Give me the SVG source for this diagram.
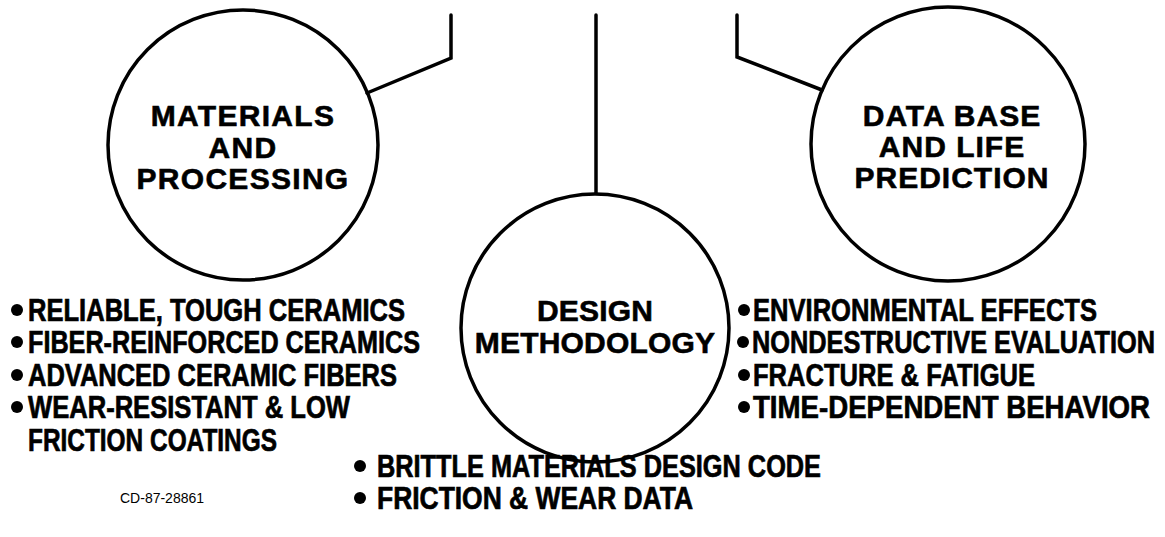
<svg xmlns="http://www.w3.org/2000/svg" width="1165" height="537" viewBox="0 0 1165 537">
<style>
.c{fill:none;stroke:#000;stroke-width:3.5}
.ln{fill:none;stroke:#000;stroke-width:3.5;stroke-linejoin:miter;stroke-linecap:round}
.t{font-family:"Liberation Sans",Arial,sans-serif;font-weight:bold;font-size:30px;fill:#000;stroke:#000;stroke-width:0.6;text-anchor:middle;letter-spacing:1px}
.b{font-family:"Liberation Sans",Arial,sans-serif;font-weight:bold;font-size:31px;fill:#000;stroke:#000;stroke-width:0.7}
.s{font-family:"Liberation Sans",Arial,sans-serif;font-size:14px;fill:#000}
.d{fill:#000}
</style>
<rect width="1165" height="537" fill="#fff"/>
<g id="connectors">
<path class="ln" d="M451,15 V58 L367,93"/>
<path class="ln" d="M596,15 V193"/>
<path class="ln" d="M737,15 V57 L822,90"/>
</g>
<g id="materials">
<circle class="c" cx="243" cy="145" r="135"/>
<text class="t" x="243" y="126" style="letter-spacing:1.3px">MATERIALS</text>
<text class="t" x="243" y="158" style="letter-spacing:1.3px">AND</text>
<text class="t" x="243" y="189" style="letter-spacing:1.3px">PROCESSING</text>
</g>
<g id="design">
<circle class="c" cx="595" cy="328" r="134"/>
<text class="t" x="595" y="321" style="letter-spacing:0.2px">DESIGN</text>
<text class="t" x="595" y="353" style="letter-spacing:0.2px">METHODOLOGY</text>
</g>
<g id="database">
<circle class="c" cx="948" cy="144" r="137"/>
<text class="t" x="952" y="126">DATA BASE</text>
<text class="t" x="952" y="157">AND LIFE</text>
<text class="t" x="952" y="188">PREDICTION</text>
</g>
<g id="materials-list">
<circle class="d" cx="17" cy="310" r="6"/>
<text class="b" x="28" y="321" textLength="377" lengthAdjust="spacingAndGlyphs">RELIABLE, TOUGH CERAMICS</text>
<circle class="d" cx="17" cy="342" r="6"/>
<text class="b" x="28" y="353" textLength="392" lengthAdjust="spacingAndGlyphs">FIBER-REINFORCED CERAMICS</text>
<circle class="d" cx="17" cy="375" r="6"/>
<text class="b" x="28" y="386" textLength="369" lengthAdjust="spacingAndGlyphs">ADVANCED CERAMIC FIBERS</text>
<circle class="d" cx="17" cy="407" r="6"/>
<text class="b" x="28" y="418" textLength="322" lengthAdjust="spacingAndGlyphs">WEAR-RESISTANT &amp; LOW</text>
<text class="b" x="28" y="451" textLength="249" lengthAdjust="spacingAndGlyphs">FRICTION COATINGS</text>
</g>
<g id="database-list">
<circle class="d" cx="744" cy="310" r="6"/>
<text class="b" x="753" y="321" textLength="344" lengthAdjust="spacingAndGlyphs">ENVIRONMENTAL EFFECTS</text>
<circle class="d" cx="743" cy="342" r="6"/>
<text class="b" x="752" y="353" textLength="403" lengthAdjust="spacingAndGlyphs">NONDESTRUCTIVE EVALUATION</text>
<circle class="d" cx="744" cy="375" r="6"/>
<text class="b" x="753" y="386" textLength="282" lengthAdjust="spacingAndGlyphs">FRACTURE &amp; FATIGUE</text>
<circle class="d" cx="744" cy="407" r="6"/>
<text class="b" x="753" y="418" textLength="397" lengthAdjust="spacingAndGlyphs">TIME-DEPENDENT BEHAVIOR</text>
</g>
<g id="design-list">
<circle class="d" cx="360" cy="466" r="6"/>
<text class="b" x="377" y="477" textLength="444" lengthAdjust="spacingAndGlyphs">BRITTLE MATERIALS DESIGN CODE</text>
<circle class="d" cx="360" cy="498" r="6"/>
<text class="b" x="377" y="509" textLength="316" lengthAdjust="spacingAndGlyphs">FRICTION &amp; WEAR DATA</text>
</g>
<text id="code" class="s" x="120" y="503">CD-87-28861</text>
</svg>
